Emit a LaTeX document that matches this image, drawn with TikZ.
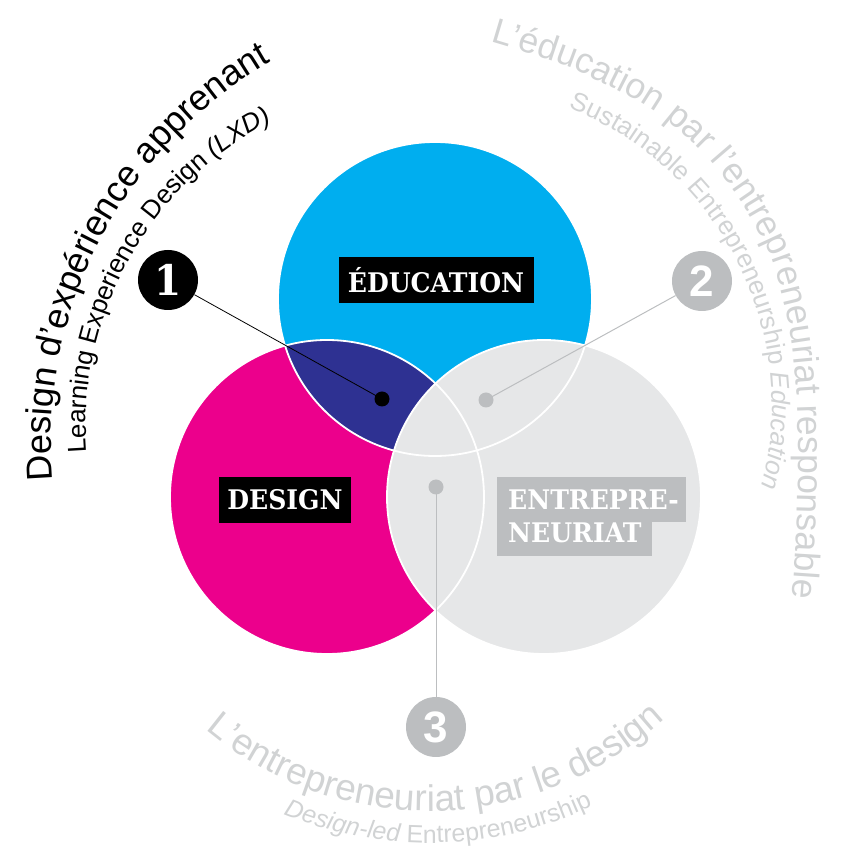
\documentclass[tikz,border=0pt]{standalone}
\usepackage{fontspec}
\setmainfont{Liberation Sans}
\newfontfamily\slab[FakeStretch=0.93]{DejaVu Serif}
\newfontfamily\numsans{Liberation Sans}
\usetikzlibrary{decorations.text}
\definecolor{cblue}{HTML}{00AEEF}
\definecolor{cmag}{HTML}{EC008C}
\definecolor{cnavy}{HTML}{2E3192}
\definecolor{cgrayfill}{HTML}{E6E7E8}
\definecolor{clabgray}{HTML}{BCBEC0}
\definecolor{carc}{HTML}{D1D3D4}
\newcommand\arcmain{\fontsize{37}{37}\selectfont}
\newcommand\arctop{\fontsize{35.5}{35.5}\selectfont}
\newcommand\arcleft{\fontsize{36}{36}\selectfont}
\newcommand\arcsub{\fontsize{25}{25}\selectfont}
\newcommand\arcsubb{\fontsize{26}{26}\selectfont}
\begin{document}
\begin{tikzpicture}[x=1pt,y=1pt,
  venn/.style={draw=white, line width=1.8pt},
  labelbox/.style={fill=black, text=white, font=\slab\bfseries\fontsize{27}{27}\selectfont, inner sep=0pt, minimum height=46pt},
  enttext/.style={anchor=base west, text=white, inner sep=0pt, font=\slab\bfseries\fontsize{27}{27}\selectfont},
  numcirc/.style={circle, minimum size=60pt, inner sep=0pt, text=white},
  vdot/.style={circle, minimum size=15pt, inner sep=0pt},
  arctext/.style={decorate, decoration={text along path, text color=#1}},
]
\useasboundingbox (0,0) rectangle (852,855);

% circles
\fill[cblue] (435,556) circle[radius=157pt];
\fill[cmag] (327,358) circle[radius=157pt];
\begin{scope}
  \clip (327,358) circle[radius=157pt];
  \fill[cnavy] (435,556) circle[radius=157pt];
\end{scope}
\fill[cgrayfill] (544,358) circle[radius=157pt];
\draw[venn] (435,556) circle[radius=157pt];
\draw[venn] (327,358) circle[radius=157pt];
\draw[venn] (544,358) circle[radius=157pt];

% labels
\node[labelbox, minimum width=195pt] (edu) at (436,575) {ÉDUCATION};
\node[labelbox, minimum width=132pt] (des) at (285,355) {DESIGN};
\fill[clabgray] (497,378) rectangle (686,333);
\fill[clabgray] (497,335) rectangle (652,299);
\node[enttext] (ent1) at (508,345) {ENTREPRE-};
\node[enttext] (ent2) at (508,312) {NEURIAT};

% dots and numbers
\node[vdot, fill=black] (d1) at (382,456) {};
\node[vdot, fill=clabgray] (d2) at (486,455) {};
\node[vdot, fill=clabgray] (d3) at (436,368) {};
\node[numcirc, fill=black, font=\slab\bfseries\fontsize{42}{42}\selectfont] (n1) at (168,575) {1};
\node[numcirc, fill=clabgray, font=\numsans\bfseries\fontsize{44}{44}\selectfont] (n2) at (702,574) {2};
\node[numcirc, fill=clabgray, font=\numsans\bfseries\fontsize{44}{44}\selectfont] (n3) at (436,128) {3};
\draw[black, line width=0.8pt] (n1) -- (d1.center);
\draw[clabgray, line width=1pt] (n2) -- (d2.center);
\draw[clabgray, line width=1pt] (d3.center) -- (n3);

% arc texts
\path[arctext=carc, decoration={text={|\arctop|L’éducation par l’entrepreneuriat responsable}}]
  plot[smooth] coordinates {(490,813) (570,787) (648,748) (700,705) (740,655) (772,595) (790,525) (797,455) (798,385) (796,315) (792,255) (785,195) (775,140)};
\path[arctext=carc, decoration={text={|\arcsubb|Sustainable Entrepreneurship |\arcsubb\itshape|Education}}]
  (452,449) ++(68.6:320pt) arc[start angle=68.6, end angle=-40, radius=320pt];
\path[arctext=carc, decoration={text={|\arcmain|L’entrepreneuriat par le design}}]
  (429,392) ++(230:348pt) arc[start angle=230, end angle=340, radius=348pt];
\path[arctext=carc, decoration={text={|\arcsub\itshape|Design-led |\arcsub|Entrepreneurship}}]
  (429,392) ++(247.5:380pt) arc[start angle=247.5, end angle=335, radius=380pt];
\path[arctext=black, decoration={text={|\arcleft|Design d’expérience apprenant}}]
  (489,413) ++(185:438pt) arc[start angle=185, end angle=95, radius=438pt];
\path[arctext=black, decoration={text={|\arcsubb|Learning Experience Design |\arcsubb\itshape|(LXD)}}]
  (428,429) ++(184.5:342pt) arc[start angle=184.5, end angle=100, radius=342pt];
\end{tikzpicture}
\end{document}
